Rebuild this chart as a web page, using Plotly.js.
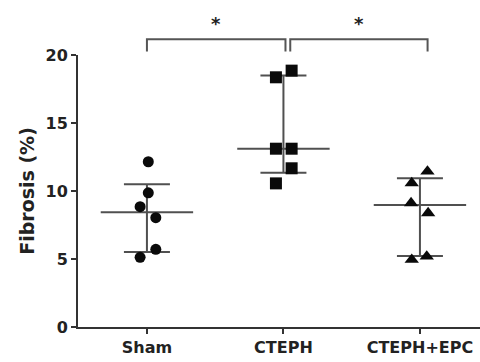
<!DOCTYPE html>
<html><head><meta charset="utf-8">
<script src="https://cdn.plot.ly/plotly-3.0.1.min.js"></script>
<style>html,body{margin:0;padding:0;background:#fff}#chart{width:480px;height:362px}</style>
</head><body><div id="chart"></div>
<script>
// ---- data ----
const categories = ['Sham', 'CTEPH', 'CTEPH+EPC'];
const shamValues = [12.15, 9.87, 8.85, 8.04, 5.71, 5.12];
const ctephValues = [18.85, 18.36, 13.11, 13.11, 11.67, 10.56];
const epcValues = [11.44, 10.58, 9.11, 8.38, 5.19, 4.95];
const centerValues = [8.43, 13.11, 8.97];
const upperValues = [10.49, 18.5, 10.93];
const lowerValues = [5.51, 11.35, 5.22];
const comparisonPairs = [[0, 1], [1, 2]];
const comparisonLabels = ['*', '*'];
const yTickValues = [0, 5, 10, 15, 20];

// ---- styling / positions ----
const jitter = [
  [0.01, 0.01, -0.05, 0.065, 0.065, -0.05],
  [0.06, -0.055, -0.055, 0.06, 0.06, -0.055],
  [0.055, -0.06, -0.065, 0.06, 0.05, -0.06]
];
const symbols = ['circle', 'square', 'triangle-up'];
const sizes = [11, 12, 12.5];
const groups = [shamValues, ctephValues, epcValues];
const font = 'DejaVu Sans, Verdana, sans-serif';
const lineColor = '#505050';

const idx = categories.map((c, i) => i);
const traces = [];
traces.push({
  type: 'scatter', mode: 'markers', x: idx, y: centerValues,
  marker: {symbol: 'line-ew', size: 66, color: lineColor, line: {color: lineColor, width: 2}},
  error_y: {type: 'data', symmetric: false,
    array: upperValues.map((u, i) => u - centerValues[i]),
    arrayminus: lowerValues.map((l, i) => centerValues[i] - l),
    width: 23, thickness: 2, color: lineColor},
  hoverinfo: 'skip', showlegend: false
});
groups.forEach((vals, g) => {
  traces.push({
    type: 'scatter', mode: 'markers',
    x: vals.map((v, k) => g + jitter[g][k]), y: vals,
    marker: {symbol: symbols[g], size: sizes[g], color: '#0a0a0a', line: {width: 0}},
    showlegend: false, cliponaxis: false
  });
});

const shapes = [];
const annotations = [];
const bracketOffsets = [[0, 0.015], [0.05, 0.056]];
comparisonPairs.forEach((p, i) => {
  const x0 = p[0] + bracketOffsets[i][0], x1 = p[1] + bracketOffsets[i][1];
  shapes.push({type: 'path', xref: 'x', yref: 'paper',
    path: `M ${x0},1.0125 L ${x0},1.058 L ${x1},1.058 L ${x1},1.0125`,
    line: {color: '#555', width: 2}});
  annotations.push({xref: 'x', yref: 'paper', x: (x0 + x1) / 2, y: 1.162,
    text: comparisonLabels[i], showarrow: false,
    font: {family: font, size: 18, color: '#222', weight: 'bold'}});
});

const layout = {
  width: 480, height: 362,
  margin: {l: 78, r: 0, t: 55, b: 35},
  paper_bgcolor: '#fff', plot_bgcolor: '#fff',
  showlegend: false,
  xaxis: {range: [-0.505, 2.44], tickvals: idx, ticktext: categories,
    showline: true, linewidth: 2, linecolor: '#333', showgrid: false, zeroline: false,
    ticks: 'outside', ticklen: 5, tickwidth: 2, tickcolor: '#333',
    tickfont: {family: font, size: 16, color: '#222', weight: 'bold'}},
  yaxis: {range: [0, 20], tickvals: yTickValues,
    showline: true, linewidth: 2, linecolor: '#333', showgrid: false, zeroline: false,
    ticks: 'outside', ticklen: 5, tickwidth: 2, tickcolor: '#333',
    tickfont: {family: font, size: 16, color: '#222', weight: 'bold'},
    title: {text: 'Fibrosis (%)', font: {family: font, size: 19, color: '#222', weight: 'bold'}, standoff: 6}},
  shapes: shapes, annotations: annotations
};
Plotly.newPlot('chart', traces, layout, {staticPlot: true, displayModeBar: false});
</script>
</body></html>
